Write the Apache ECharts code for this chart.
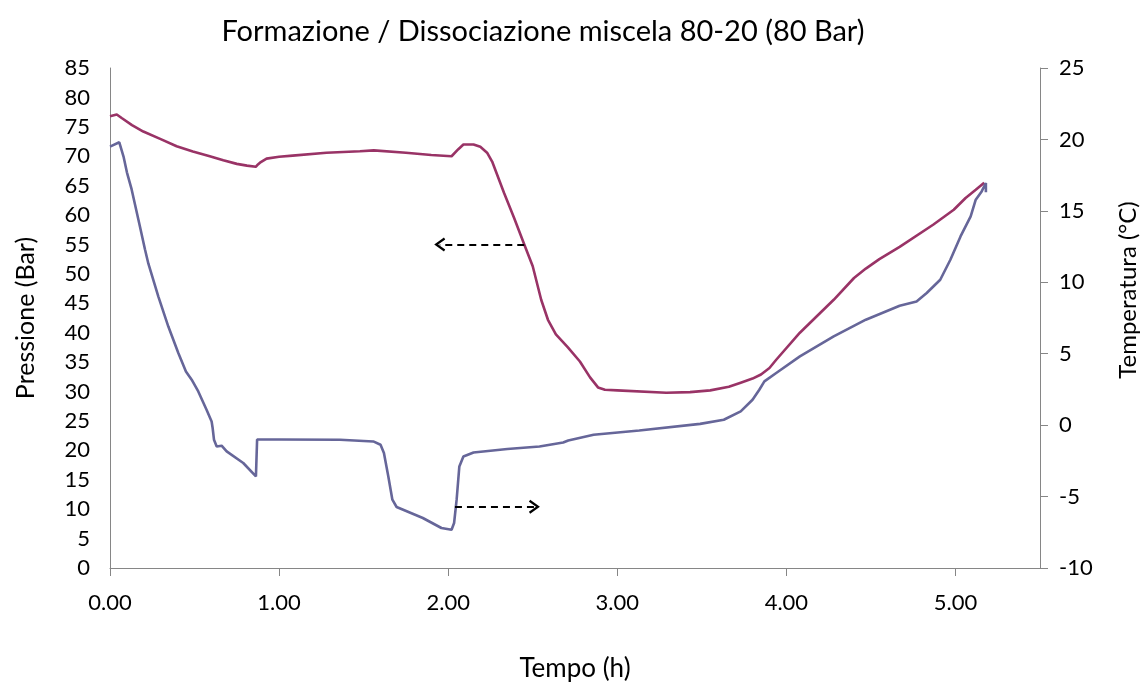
<!DOCTYPE html>
<html>
<head>
<meta charset="utf-8">
<script src="https://cdn.jsdelivr.net/npm/echarts@6/dist/echarts.min.js"></script>
<style>html,body{margin:0;padding:0;background:#fff;}#c{width:1145px;height:684px;}</style>
</head>
<body>
<div id="c"></div>
<script>
// Pressure (Bar) – left axis
const pressHours = [0.00,0.04,0.069,0.13,0.197,0.30,0.394,0.49,0.59,0.67,0.75,0.81,0.862,0.875,0.887,0.926,1.00,1.08,1.28,1.478,1.56,1.75,1.90,2.02,2.06,2.09,2.15,2.19,2.23,2.26,2.33,2.39,2.45,2.50,2.55,2.59,2.637,2.708,2.779,2.839,2.886,2.927,3.00,3.29,3.43,3.55,3.66,3.73,3.80,3.85,3.90,3.94,4.08,4.28,4.40,4.47,4.55,4.67,4.87,4.99,5.06,5.12,5.17];
const pressVals  = [76.8,77.1,76.5,75.3,74.2,72.9,71.7,70.8,70.0,69.3,68.7,68.4,68.2,68.6,68.9,69.6,69.9,70.1,70.6,70.85,71.0,70.6,70.2,70.0,71.2,72.0,72.0,71.6,70.6,69.1,63.8,59.5,55.0,51.3,45.6,42.2,39.7,37.5,35.1,32.4,30.7,30.3,30.2,29.8,29.9,30.2,30.8,31.5,32.2,32.9,34.0,35.4,40.0,45.6,49.3,50.9,52.5,54.6,58.4,60.9,62.9,64.3,65.5];
// Temperature (°C) – right axis
const tempHours = [0.00,0.055,0.08,0.10,0.128,0.177,0.207,0.227,0.286,0.345,0.404,0.449,0.483,0.522,0.571,0.601,0.607,0.615,0.631,0.66,0.69,0.788,0.863,0.870,0.877,1.00,1.36,1.557,1.60,1.62,1.646,1.67,1.695,1.85,1.96,2.02,2.035,2.05,2.066,2.09,2.15,2.35,2.54,2.68,2.71,2.86,3.13,3.49,3.63,3.73,3.80,3.84,3.87,3.94,4.08,4.28,4.47,4.67,4.77,4.83,4.91,4.97,5.03,5.09,5.12,5.155,5.18,5.18];
const tempVals  = [19.5,19.8,18.8,17.7,16.5,13.9,12.3,11.3,9.0,6.9,5.05,3.76,3.18,2.36,1.08,0.26,-0.2,-1.02,-1.49,-1.44,-1.84,-2.65,-3.59,-1.0,-0.97,-1.0,-1.02,-1.14,-1.37,-1.95,-3.59,-5.22,-5.73,-6.5,-7.2,-7.32,-6.85,-5.22,-2.89,-2.19,-1.91,-1.67,-1.49,-1.21,-1.07,-0.67,-0.37,0.09,0.38,0.96,1.78,2.48,3.06,3.65,4.81,6.21,7.38,8.36,8.66,9.25,10.18,11.58,13.21,14.61,15.78,16.36,16.95,16.3];
const xTicks = [0,1,2,3,4,5];
// annotation arrows (data coords)
const arrowPress = [[2.45,55],[1.95,55]];
const arrowTemp  = [[2.04,-5.71],[2.51,-5.71]];

const FONT = 'Lato';
const axisColor = '#868686';
const chevron = 'path://M5,0 L10,8.5 L8.6,9.6 L5,3.4 L1.4,9.6 L0,8.5 Z';

const chart = echarts.init(document.getElementById('c'));
chart.setOption({
  animation:false,
  title:{text:'Formazione / Dissociazione miscela 80-20 (80 Bar)',left:538,top:12,textAlign:'center',
    textStyle:{fontFamily:FONT,fontSize:29,fontWeight:'normal',color:'#000'}},
  grid:{left:110,right:105,top:68,bottom:116,containLabel:false,outerBoundsMode:'none'},
  xAxis:{type:'value',min:0,max:5.5,interval:1,
    name:'Tempo (h)',nameLocation:'middle',nameGap:88,
    nameTextStyle:{fontFamily:FONT,fontSize:26,color:'#000'},
    axisLine:{lineStyle:{color:axisColor,width:1}},
    axisTick:{show:true,length:8,inside:false,customValues:xTicks,lineStyle:{color:axisColor}},
    axisLabel:{customValues:xTicks,margin:24,fontFamily:FONT,fontSize:22,color:'#000',
      formatter:v=> (Math.abs(v-Math.round(v))<1e-9 ? v.toFixed(2) : '')},
    splitLine:{show:false}},
  yAxis:[
    {type:'value',min:0,max:85,interval:5,position:'left',
     name:'Pressione (Bar)',nameLocation:'middle',nameGap:72,nameRotate:90,
     nameTextStyle:{fontFamily:FONT,fontSize:25,color:'#000'},
     axisLine:{show:true,lineStyle:{color:axisColor}},
     axisTick:{show:false},
     axisLabel:{margin:20,fontFamily:FONT,fontSize:22,color:'#000'},
     splitLine:{show:false}},
    {type:'value',min:-10,max:25,interval:5,position:'right',
     name:'Temperatura (°C)',nameLocation:'middle',nameGap:76,nameRotate:90,
     nameTextStyle:{fontFamily:FONT,fontSize:24,color:'#000',padding:[0,0,0,56]},
     axisLine:{show:true,lineStyle:{color:axisColor}},
     axisTick:{show:true,length:8,lineStyle:{color:axisColor}},
     axisLabel:{margin:19,fontFamily:FONT,fontSize:22,color:'#000'},
     splitLine:{show:false}}
  ],
  series:[
    {name:'Pressione',type:'line',yAxisIndex:0,showSymbol:false,
     data:pressHours.map((h,i)=>[h,pressVals[i]]),
     lineStyle:{color:'#993366',width:2.6},itemStyle:{color:'#993366'},
     markLine:{silent:true,symbol:['none',chevron],symbolSize:[14,11],label:{show:false},
       lineStyle:{color:'#000',type:[7,5],width:2},
       data:[[{coord:arrowPress[0]},{coord:arrowPress[1]}]]}},
    {name:'Temperatura',type:'line',yAxisIndex:1,showSymbol:false,
     data:tempHours.map((h,i)=>[h,tempVals[i]]),
     lineStyle:{color:'#666699',width:2.6},itemStyle:{color:'#666699'},
     markLine:{silent:true,symbol:['none',chevron],symbolSize:[14,11],label:{show:false},
       lineStyle:{color:'#000',type:[7,5],width:2},
       data:[[{coord:arrowTemp[0]},{coord:arrowTemp[1]}]]}}
  ]
});
</script>
</body>
</html>
